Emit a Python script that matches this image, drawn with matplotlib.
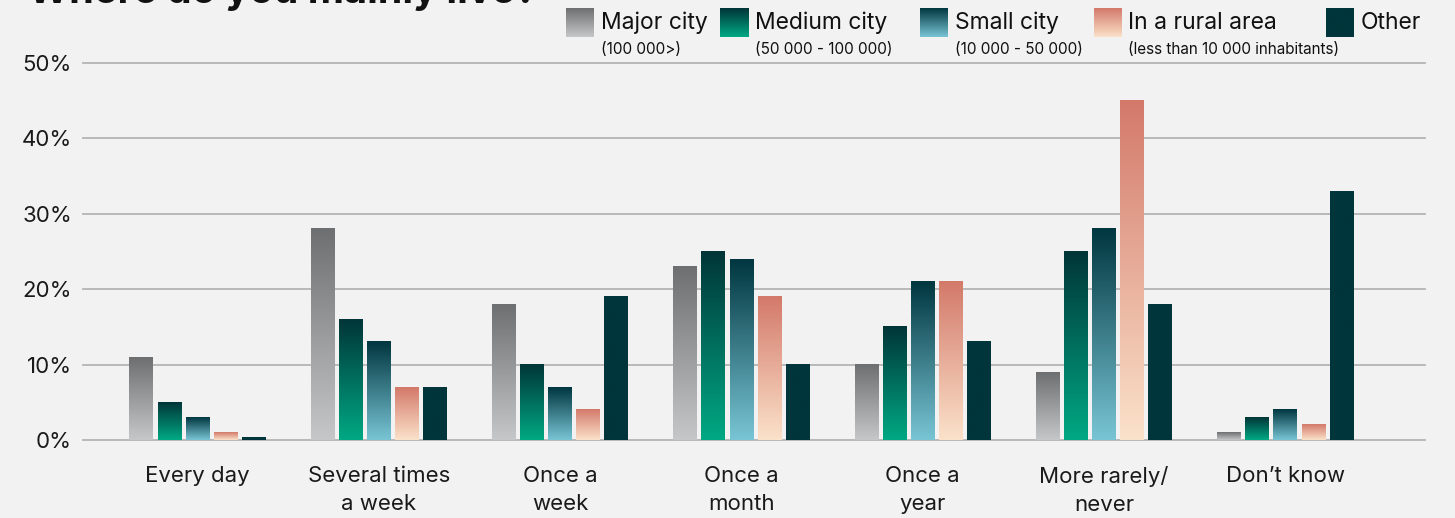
import numpy as np
import matplotlib
matplotlib.use("Agg")
import matplotlib.pyplot as plt
from matplotlib.colors import LinearSegmentedColormap

plt.rcParams['font.family'] = ['Inter', 'DejaVu Sans']

categories = ["Every day", "Several times\na week", "Once a\nweek", "Once a\nmonth",
              "Once a\nyear", "More rarely/\nnever", "Don\u2019t know"]
series_names = ["Major city", "Medium city", "Small city", "In a rural area", "Other"]
series_sub = ["(100 000>)", "(50 000 - 100 000)", "(10 000 - 50 000)",
              "(less than 10 000 inhabitants)", ""]
major_city = [11, 28, 18, 23, 10, 9, 1]
medium_city = [5, 16, 10, 25, 15, 25, 3]
small_city = [3, 13, 7, 24, 21, 28, 4]
rural_area = [1, 7, 4, 19, 21, 45, 2]
other = [0.3, 7, 19, 10, 13, 18, 33]
yticks = [0, 10, 20, 30, 40, 50]
ytick_labels = ["0%", "10%", "20%", "30%", "40%", "50%"]
title = "Where do you mainly live?"

series = [major_city, medium_city, small_city, rural_area, other]
# (top colour, bottom colour)
grads = [("#6e6f70", "#c6c7c8"),
         ("#003538", "#00a983"),
         ("#00363f", "#79c5d5"),
         ("#d3796a", "#fbe2ca"),
         ("#00353b", "#00353b")]
BG = "#f2f2f2"

W, H = 1455, 518
fig = plt.figure(figsize=(W / 100, H / 100), dpi=100, facecolor=BG)
ax = fig.add_axes([83 / W, 1 - 440 / H, (1425 - 83) / W, (440 - 63) / H])
ax.set_facecolor(BG)

x = np.arange(len(categories))
bw = 0.132
step = 0.155
for j, vals in enumerate(series):
    bars = ax.bar(x + (j - 2) * step, vals, width=bw, color='none', zorder=2)
    cmap = LinearSegmentedColormap.from_list(f"g{j}", [grads[j][1], grads[j][0]])
    grad = np.linspace(0, 1, 256).reshape(-1, 1)
    for b in bars:
        bx, by = b.get_x(), b.get_y()
        bwid, bh = b.get_width(), b.get_height()
        ax.imshow(grad, cmap=cmap, extent=[bx, bx + bwid, by, by + bh],
                  origin='lower', aspect='auto', zorder=2, interpolation='bilinear')

for yv in yticks:
    ax.axhline(yv, color="#b4b4b4", lw=1.3, zorder=1, clip_on=False)

ax.set_xlim(-0.632, 6.77)
ax.set_ylim(0, 50)
ax.set_yticks(yticks)
ax.set_yticklabels(ytick_labels)
ax.set_xticks(x)
ax.set_xticklabels(categories, linespacing=1.5)
ax.tick_params(axis='y', length=0, pad=8, labelsize=16, labelcolor="#1a1a1a")
ax.tick_params(axis='x', length=0, pad=19, labelsize=16, labelcolor="#1a1a1a")
for s in ax.spines.values():
    s.set_visible(False)

fig.text(28 / W, 1 - 3 / H, title, fontsize=28.5, fontweight='bold', ha='left',
         va='baseline', color="#111111")

# legend
sw_x = [566, 720, 920, 1094, 1326]
txt_x = [601, 755, 955, 1128, 1361]
for j in range(5):
    lax = fig.add_axes([sw_x[j] / W, 1 - 37 / H, 28 / W, 29 / H])
    cmap = LinearSegmentedColormap.from_list(f"l{j}", [grads[j][1], grads[j][0]])
    lax.imshow(np.linspace(0, 1, 256).reshape(-1, 1), cmap=cmap, origin='lower',
               aspect='auto', extent=[0, 1, 0, 1])
    lax.axis('off')
    fig.text(txt_x[j] / W, 1 - 23 / H, series_names[j], fontsize=16.5, ha='left',
             va='center', color="#111111")
    if series_sub[j]:
        fig.text(txt_x[j] / W, 1 - 49 / H, series_sub[j], fontsize=11, ha='left',
                 va='center', color="#111111")

fig.savefig("out.png", dpi=100, facecolor=BG)
